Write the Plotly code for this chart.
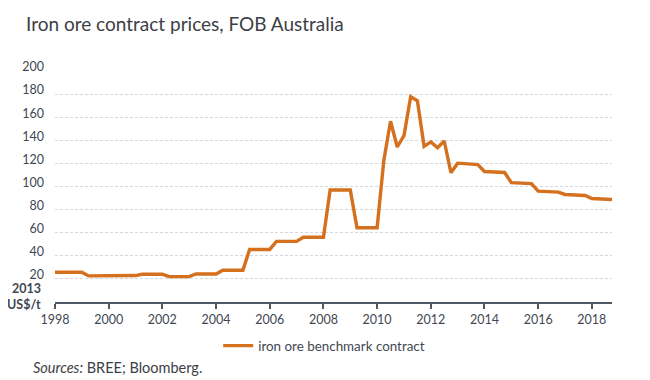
import plotly.graph_objects as go

# Quarterly observations, starting Q1 1998
start_year = 1998
prices = [
    25.8, 25.8, 25.8, 25.8,      # 1998
    25.8, 22.6, 22.6, 22.7,      # 1999
    22.7, 22.8, 22.8, 22.9,      # 2000
    22.9, 24.0, 24.0, 24.0,      # 2001
    24.0, 22.0, 22.0, 22.0,      # 2002
    22.0, 24.3, 24.3, 24.3,      # 2003
    24.3, 27.5, 27.5, 27.5,      # 2004
    27.5, 45.5, 45.5, 45.5,      # 2005
    45.5, 52.5, 52.5, 52.5,      # 2006
    52.5, 56.0, 56.0, 56.0,      # 2007
    56.0, 97.0, 97.0, 97.0,      # 2008
    97.0, 64.3, 64.3, 64.3,      # 2009
    64.3, 122.6, 156.5, 134.2,   # 2010
    144.0, 177.7, 174.2, 134.8,  # 2011
    138.6, 133.6, 139.4, 111.9,  # 2012
    120.2, 119.8, 119.4, 119.0,  # 2013
    113.0, 112.7, 112.4, 112.1,  # 2014
    103.3, 103.0, 102.8, 102.5,  # 2015
    96.0, 95.7, 95.4, 95.1,      # 2016
    93.1, 92.8, 92.5, 92.2,      # 2017
    89.6, 89.3, 89.0, 88.7,      # 2018
]
periods = [start_year + i / 4 for i in range(len(prices))]

x_ticks = list(range(1998, 2019, 2))
y_ticks = list(range(20, 201, 20))

FONT = "Lato"
TXT = "#3f4852"
AX = "#4f5966"
ORANGE = "#D4701E"

fig = go.Figure()
fig.add_trace(go.Scatter(
    x=periods, y=prices, mode="lines",
    name="iron ore benchmark contract",
    line=dict(color=ORANGE, width=3.4),
))

# page body adds an 8px offset, so the figure is 642x372
fig.update_layout(
    width=642, height=372,
    margin=dict(l=47, r=38, t=63, b=78),
    paper_bgcolor="white", plot_bgcolor="white",
    font=dict(family=FONT, size=12.5, color=TXT),
    title=dict(text="Iron ore contract prices, FOB Australia",
               x=0.028, xref="container", xanchor="left",
               y=0.957, yref="container", yanchor="middle",
               font=dict(family=FONT, size=19, color="#3c4046")),
    showlegend=True,
    legend=dict(orientation="h", x=0.293, xanchor="left", y=-0.19, yanchor="middle",
                font=dict(family=FONT, size=13.4, color=TXT),
                itemwidth=30, bgcolor="rgba(0,0,0,0)"),
)

fig.update_xaxes(
    range=[1998, 2018.75], tickvals=x_ticks, ticktext=[str(v) for v in x_ticks],
    showgrid=False, zeroline=False,
    showline=True, linecolor=AX, linewidth=1.5,
    ticks="outside", ticklen=5, tickwidth=1.5, tickcolor=AX,
    tickfont=dict(family=FONT, size=12.5, color=TXT),
)
fig.update_yaxes(
    range=[0, 200], tickvals=y_ticks,
    showgrid=True, gridcolor="#d4d7db", gridwidth=1, griddash="3px,2px",
    zeroline=False, showline=False, ticks="",
    ticklabelstandoff=10, ticklabelshift=-4,
    tickfont=dict(family=FONT, size=12.5, color=TXT),
)

fig.add_annotation(text="<b>2013</b>", xref="paper", yref="paper",
                   x=-0.022, y=0.06, xanchor="right", yanchor="middle",
                   showarrow=False, font=dict(family=FONT, size=12.5, color=TXT))
fig.add_annotation(text="<b>US$/t</b>", xref="paper", yref="paper",
                   x=-0.022, y=-0.012, xanchor="right", yanchor="middle",
                   showarrow=False, font=dict(family=FONT, size=12.5, color=TXT))
fig.add_annotation(text="<i>Sources:</i> BREE; Bloomberg.", xref="paper", yref="paper",
                   x=-0.0436, y=-0.285, xanchor="left", yanchor="middle",
                   showarrow=False, font=dict(family=FONT, size=14.5, color="#3c4046"))

fig.write_html("out.html")
